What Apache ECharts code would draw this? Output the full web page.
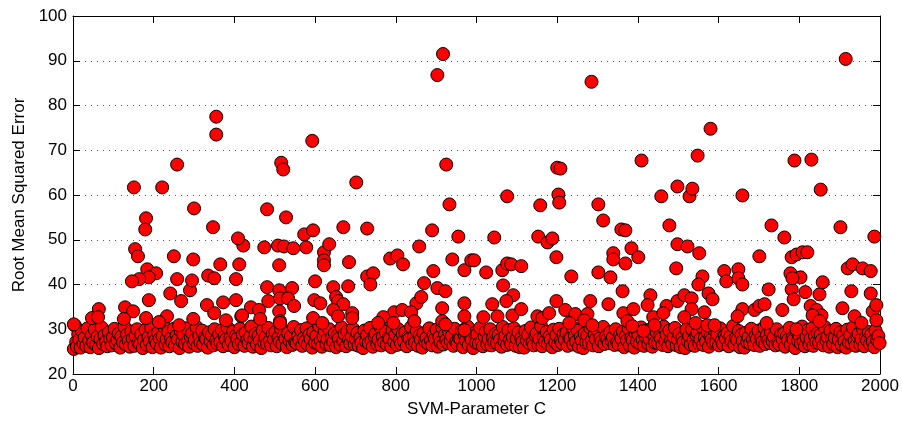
<!DOCTYPE html>
<html>
<head>
<meta charset="utf-8">
<script src="https://cdn.jsdelivr.net/npm/echarts@6/dist/echarts.min.js"></script>
<style>
html,body{margin:0;padding:0;background:#fff;}
#chart{width:902px;height:423px;}
</style>
</head>
<body>
<div id="chart"></div>
<script>
const xTicks = [0,200,400,600,800,1000,1200,1400,1600,1800,2000];
const yTicks = [20,30,40,50,60,70,80,90,100];
const xTitle = 'SVM-Parameter C';
const yTitle = 'Root Mean Squared Error';

// outliers above the dense band: [C, RMSE]
const highPoints = [
[151,61.7],[181,54.8],[179,52.3],[221,61.7],[258,66.8],[300,57.0],[347,52.8],[355,77.5],[355,73.5],
[481,56.8],[516,67.2],[521,65.7],[528,55.0],[593,72.1],[573,51.2],[595,52.1],[670,52.8],[702,62.8],
[729,52.5],[890,52.1],[903,86.8],[917,91.5],[925,66.8],[933,57.9],[409,50.3],[1044,50.5],[955,50.7],
[1076,59.7],[1153,50.7],[1176,49.4],[1188,50.3],[1158,57.7],[1200,66.1],[1208,65.9],[1203,60.1],
[1205,58.3],[1285,85.3],[1302,57.9],[1314,54.3],[1359,52.3],[1369,52.1],[1409,67.7],[1458,59.7],
[1478,53.2],[1498,61.9],[1528,59.7],[1535,61.4],[1548,68.8],[1580,74.8],[1659,59.9],[1731,53.2],
[1763,50.5],[1788,67.7],[1830,67.9],[1853,61.2],[1902,52.8],[1915,90.4],[1986,50.7]
];
const midPoints = [
[422,48.7],[154,47.9],[161,46.3],[250,46.3],[298,45.6],[474,48.3],[508,48.7],[523,48.5],[546,48.1],
[578,48.3],[622,47.2],[635,49.0],[622,45.4],[622,44.3],[684,45.0],[511,44.3],[365,44.5],[412,44.5],
[184,43.4],[206,42.5],[188,41.6],[164,41.2],[146,40.7],[258,41.2],[295,40.9],[335,42.0],[350,41.4],
[404,41.2],[600,40.7],[786,45.8],[804,46.5],[818,44.5],[858,48.5],[940,45.6],[970,43.2],[987,45.4],
[893,43.0],[729,41.8],[744,42.5],[737,40.0],[870,40.3],[994,45.4],[1024,42.7],[1064,43.2],[1076,44.7],
[1086,44.5],[1111,44.1],[1198,46.1],[1235,41.8],[1302,42.7],[1332,41.6],[1339,47.0],[1339,45.6],
[1369,44.7],[1384,48.1],[1401,46.1],[1498,49.0],[1495,43.6],[1523,48.5],[1552,47.0],[1701,46.3],
[1781,46.1],[1793,46.7],[1808,47.2],[1820,47.2],[1614,43.0],[1649,43.4],[1619,40.7],[1649,41.4],
[1659,40.0],[1560,41.8],[1550,40.0],[1778,42.5],[1803,41.6],[1783,41.4],[1858,40.5],[1920,43.6],
[1932,44.5],[1957,43.6],[1977,43.0],[1066,39.8]
];
const lowPoints = [
[481,39.4],[241,38.0],[290,38.7],[188,36.5],[268,36.3],[332,35.4],[350,33.6],[372,36.0],[404,36.5],
[129,34.9],[64,34.5],[149,34.0],[233,32.9],[441,34.9],[461,34.3],[417,32.9],[484,36.3],[419,33.1],
[511,38.7],[543,39.2],[645,39.4],[682,39.6],[903,39.2],[923,38.5],[513,36.9],[533,36.9],[548,35.2],
[598,36.5],[613,35.8],[652,37.2],[657,36.3],[670,35.6],[645,34.3],[657,32.9],[692,33.6],[692,32.5],
[511,34.0],[595,32.5],[851,35.8],[863,37.2],[796,33.8],[816,34.3],[838,33.8],[769,32.7],[846,31.8],
[915,34.7],[970,35.8],[970,32.9],[1091,37.6],[1074,36.3],[1039,35.6],[1017,32.7],[1052,32.9],[1089,33.1],
[1111,34.5],[1151,32.9],[1163,32.5],[1180,33.6],[1198,36.3],[1220,34.3],[1245,33.4],[1275,33.4],
[1282,36.3],[1327,35.6],[1362,38.5],[1364,33.6],[1389,34.5],[1431,37.6],[1424,35.4],[1438,32.7],
[1471,35.2],[1463,33.6],[1498,36.3],[1515,37.6],[1533,36.9],[1575,38.0],[1585,36.7],[1533,34.5],
[1565,33.8],[1515,32.7],[1659,34.5],[1647,32.9],[1689,34.3],[1701,35.2],[1714,35.6],[1758,34.3],
[1724,38.9],[1781,38.9],[1786,36.7],[1815,38.3],[1850,37.8],[1828,35.2],[1843,34.3],[1855,33.1],
[1833,33.1],[1929,38.5],[1977,38.0],[1907,34.7],[1937,32.9],[1982,34.0],[1991,35.4],[1991,32.0],
[2,31.1],[47,32.5],[62,32.7],[126,32.3],[181,32.5],[213,31.6],[263,30.9],[298,32.3],[379,32.0],
[464,32.3],[513,31.8],[513,31.4],[618,31.4],[756,31.4],[794,31.4],[915,31.8],[923,31.1],[970,29.8],
[1230,31.4],[1267,32.0],[1287,30.9],[1374,31.8],[1386,30.7],[1441,30.9],[1414,29.6],[1850,31.8],
[1954,31.4],[1543,31.4],[1572,30.9],[1590,30.9],[1719,31.4],[1793,30.0]
];
// dense band of near-minimal errors
const bandPoints = [
[2,25.6],[5,30.8],[8,27.2],[10,26.1],[13,28.9],[16,27.7],[19,25.9],[22,29.6],[26,26.8],[29,28.1],[33,26.3],[36,30.2],[40,27.5],[43,26.0],[47,28.7],[50,27.0],[54,29.9],[57,26.5],[61,28.3],[64,25.8],[68,27.9],[71,30.4],[75,26.7],[78,28.6],[82,27.3],[85,26.2],[89,29.3],[92,27.8],[96,26.4],[99,28.2],[103,30.1],[106,26.9],[110,27.6],[113,29.0],[117,25.9],[120,28.4],[124,27.1],[127,30.6],[131,26.6],[134,28.8],[138,27.4],[141,26.1],[145,29.5],[148,27.9],[152,26.3],[155,28.5],[159,30.0],[162,27.0],[166,26.7],[169,28.9],[173,25.8],[176,27.6],[180,29.8],[183,26.5],[187,28.2],[190,27.3],[194,30.3],[197,26.0],[201,28.7],[204,27.5],[208,26.8],[211,29.2],[215,27.9],[218,25.9],[222,28.4],[225,30.7],[229,26.6],[232,27.8],[236,29.4],[239,26.2],[243,28.0],[246,27.1],[250,30.1],[253,26.4],[257,28.6],[260,27.7],[264,25.8],[267,29.6],[271,27.2],[274,28.8],[278,26.7],[281,30.2],[285,27.4],[288,26.1],[292,28.3],[295,29.1],[299,26.9],[302,27.6],[306,30.5],[309,26.3],[313,28.5],[316,27.0],[320,29.7],[323,26.6],[327,28.1],[330,27.8],[334,25.9],[337,29.3],[341,27.3],[344,28.7],[348,26.4],[351,30.0],[355,27.5],[358,26.8],[362,28.9],[365,27.1],[369,29.8],[372,26.2],[376,28.4],[379,27.7],[383,30.4],[386,26.5],[390,28.0],[393,27.3],[397,29.5],[400,26.0],[404,28.6],[407,27.9],[411,26.7],[414,30.1],[418,27.2],[421,28.8],[425,26.3],[428,29.2],[432,27.6],[435,26.9],[439,28.3],[442,30.6],[446,26.1],[449,27.8],[453,29.0],[456,26.6],[460,28.5],[463,27.4],[467,25.8],[470,29.7],[474,27.0],[477,28.2],[481,26.8],[484,30.3],[488,27.5],[491,26.4],[495,28.9],[498,27.7],
[502,29.4],[505,26.2],[509,28.1],[512,27.2],[516,30.0],[519,26.7],[523,28.7],[526,27.9],[530,26.0],[533,29.1],[537,27.4],[540,28.4],[544,26.5],[547,30.5],[551,27.1],[554,26.9],[558,28.6],[561,27.6],[565,29.8],[568,26.3],[572,28.0],[575,27.3],[579,30.2],[582,26.6],[586,28.8],[589,27.8],[593,25.9],[596,29.3],[600,27.0],[603,28.5],[607,26.8],[610,30.7],[614,27.5],[617,26.1],[621,28.3],[624,29.6],[628,26.7],[631,27.7],[635,30.0],[638,26.4],[642,28.2],[645,27.2],[649,29.1],[652,26.0],[656,28.6],[659,27.9],[663,26.5],[666,30.4],[670,27.4],[673,28.9],[677,26.2],[680,29.5],[684,27.6],[687,26.8],[691,28.4],[694,30.1],[698,26.6],[701,27.8],[705,29.2],[708,26.3],[712,28.1],[715,27.0],[719,25.8],[722,29.7],[726,27.3],[729,28.7],[733,26.9],[736,30.3],[740,27.5],[743,26.1],[747,28.5],[750,29.0],[754,26.7],[757,27.7],[761,30.6],[764,26.4],[768,28.3],[771,27.1],[775,29.4],[778,26.6],[782,28.0],[785,27.8],[789,26.0],[792,29.8],[796,27.2],[799,28.8],[803,26.5],[806,30.0],[810,27.6],[813,26.8],[817,28.9],[820,27.4],[824,29.3],[827,26.2],[831,28.2],[834,27.9],[838,30.5],[841,26.7],[845,28.4],[848,27.0],[852,29.6],[855,26.3],[859,28.6],[862,27.7],[866,25.9],[869,29.1],[873,27.3],[876,28.1],[880,26.8],[883,30.2],[887,27.5],[890,26.4],[894,28.7],[897,27.8],[901,29.9],[904,26.1],[908,28.3],[911,27.1],[915,30.4],[918,26.6],[922,28.8],[925,27.6],[929,26.9],[932,29.4],[936,27.4],[939,28.5],[943,26.3],[946,30.1],[950,27.2],[953,26.7],[957,28.0],[960,27.9],[964,29.7],[967,26.0],[971,28.6],[974,27.5],[978,30.6],[981,26.5],[985,28.2],[988,27.7],[992,25.8],[995,29.2],[999,27.0],
[1002,28.9],[1006,26.8],[1009,30.3],[1013,27.3],[1016,26.2],[1020,28.4],[1023,29.5],[1027,26.6],[1030,27.8],[1034,30.0],[1037,26.4],[1041,28.1],[1044,27.1],[1048,29.0],[1051,26.9],[1055,28.7],[1058,27.6],[1062,26.1],[1065,30.5],[1069,27.4],[1072,28.5],[1076,26.5],[1079,29.8],[1083,27.7],[1086,26.7],[1090,28.3],[1093,30.2],[1097,26.3],[1100,27.9],[1104,29.3],[1107,26.0],[1111,28.0],[1114,27.2],[1118,25.9],[1121,29.6],[1125,27.5],[1128,28.8],[1132,26.8],[1135,30.4],[1139,27.0],[1142,26.4],[1146,28.6],[1149,29.1],[1153,26.6],[1156,27.8],[1160,30.7],[1163,26.2],[1167,28.2],[1170,27.3],[1174,29.4],[1177,26.7],[1181,28.4],[1184,27.6],[1188,26.0],[1191,29.9],[1195,27.1],[1198,28.7],[1202,26.5],[1205,30.1],[1209,27.4],[1212,26.9],[1216,28.9],[1219,27.7],[1223,29.2],[1226,26.3],[1230,28.1],[1233,27.9],[1237,30.6],[1240,26.6],[1244,28.5],[1247,27.2],[1251,29.7],[1254,26.1],[1258,28.3],[1261,27.5],[1265,25.8],[1268,29.0],[1272,27.0],[1275,28.6],[1279,26.8],[1282,30.3],[1286,27.6],[1289,26.4],[1293,28.8],[1296,27.8],[1300,29.8],[1303,26.2],[1307,28.0],[1310,27.3],[1314,30.5],[1317,26.7],[1321,28.4],[1324,27.7],[1328,26.9],[1331,29.3],[1335,27.4],[1338,28.2],[1342,26.5],[1345,30.0],[1349,27.1],[1352,26.6],[1356,28.7],[1359,27.9],[1363,29.5],[1366,26.0],[1370,28.5],[1373,27.5],[1377,30.2],[1380,26.4],[1384,28.1],[1387,27.6],[1391,25.9],[1394,29.1],[1398,27.2],[1401,28.9],[1405,26.8],[1408,30.4],[1412,27.7],[1415,26.3],[1419,28.3],[1422,29.6],[1426,26.7],[1429,27.8],[1433,30.1],[1436,26.1],[1440,28.6],[1443,27.0],[1447,29.2],[1450,26.9],[1454,28.4],[1457,27.9],[1461,26.5],[1464,30.6],[1468,27.3],[1471,28.8],[1475,26.2],[1478,29.7],[1482,27.5],[1485,26.7],[1489,28.2],[1492,30.3],[1496,26.4],[1499,27.7],
[1503,29.0],[1506,26.0],[1510,28.0],[1513,27.1],[1517,25.8],[1520,29.9],[1524,27.4],[1527,28.5],[1531,26.6],[1534,30.0],[1538,27.6],[1541,26.3],[1545,28.7],[1548,29.3],[1552,26.8],[1555,27.8],[1559,30.5],[1562,26.5],[1566,28.1],[1569,27.2],[1573,29.4],[1576,26.1],[1580,28.3],[1583,27.7],[1587,26.9],[1590,29.8],[1594,27.0],[1597,28.9],[1601,26.4],[1604,30.2],[1608,27.5],[1611,26.7],[1615,28.6],[1618,27.9],[1622,29.1],[1625,26.2],[1629,28.4],[1632,27.3],[1636,30.7],[1639,26.6],[1643,28.0],[1646,27.6],[1650,29.6],[1653,26.0],[1657,28.8],[1660,27.4],[1664,25.9],[1667,29.2],[1671,27.1],[1674,28.2],[1678,26.8],[1681,30.1],[1685,27.7],[1688,26.5],[1692,28.5],[1695,27.8],[1699,29.7],[1702,26.3],[1706,28.1],[1709,27.2],[1713,30.4],[1716,26.7],[1720,28.7],[1723,27.5],[1727,26.9],[1730,29.4],[1734,27.3],[1737,28.3],[1741,26.4],[1744,30.0],[1748,27.0],[1751,26.6],[1755,28.9],[1758,27.9],[1762,29.0],[1765,26.1],[1769,28.4],[1772,27.6],[1776,30.3],[1779,26.5],[1783,28.0],[1786,27.7],[1790,25.8],[1793,29.5],[1797,27.4],[1800,28.6],[1804,26.8],[1807,30.6],[1811,27.2],[1814,26.2],[1818,28.2],[1821,29.8],[1825,26.6],[1828,27.8],[1832,30.2],[1835,26.3],[1839,28.5],[1842,27.1],[1846,29.1],[1849,26.9],[1853,28.8],[1856,27.6],[1860,26.4],[1863,30.5],[1867,27.5],[1870,28.3],[1874,26.1],[1877,29.6],[1881,27.9],[1884,26.7],[1888,28.1],[1891,30.1],[1895,26.0],[1898,27.7],[1902,29.3],[1905,26.5],[1909,28.6],[1912,27.3],[1916,25.9],[1919,29.9],[1923,27.0],[1926,28.7],[1930,26.8],[1933,30.4],[1937,27.4],[1940,26.3],[1944,28.4],[1947,29.0],[1951,26.6],[1954,27.8],[1958,30.0],[1961,26.2],[1965,28.2],[1968,27.5],[1972,29.4],[1975,26.7],[1979,28.9],[1982,27.2],[1986,26.0],[1989,29.7],[1993,27.6],[1996,28.5],[1999,26.9]
];

const FONT = 'Liberation Sans, Arial, Helvetica, sans-serif';
const allPoints = bandPoints.concat(lowPoints, midPoints, highPoints);

const chart = echarts.init(document.getElementById('chart'), null, {renderer: 'canvas'});
const xMin = xTicks[0], xMax = xTicks[xTicks.length-1], xInt = xTicks[1]-xTicks[0];
const yMin = yTicks[0], yMax = yTicks[yTicks.length-1], yInt = yTicks[1]-yTicks[0];

const axisCommon = {
  axisLine: {show: true, onZero: false, lineStyle: {color: '#000', width: 1}},
  axisTick: {show: true, inside: true, length: 7, lineStyle: {color: '#000', width: 1}},
  minorTick: {show: false},
};
const plain = v => String(v);

chart.setOption({
  animation: false,
  backgroundColor: '#fff',
  grid: {left: 73, right: 22, top: 16, bottom: 48, containLabel: false},
  xAxis: [
    Object.assign({}, axisCommon, {
      type: 'value', min: xMin, max: xMax, interval: xInt, position: 'bottom',
      name: xTitle, nameLocation: 'middle', nameGap: 27,
      nameTextStyle: {fontFamily: FONT, fontSize: 17, color: '#000'},
      axisLabel: {fontFamily: FONT, fontSize: 17, color: '#000', margin: 4, formatter: plain},
      splitLine: {show: false}
    }),
    Object.assign({}, axisCommon, {
      type: 'value', min: xMin, max: xMax, interval: xInt, position: 'top',
      axisLabel: {show: false}, splitLine: {show: false}
    })
  ],
  yAxis: [
    Object.assign({}, axisCommon, {
      type: 'value', min: yMin, max: yMax, interval: yInt, position: 'left',
      name: yTitle, nameLocation: 'middle', nameGap: 45, nameRotate: 90,
      nameTextStyle: {fontFamily: FONT, fontSize: 17, color: '#000'},
      axisLabel: {fontFamily: FONT, fontSize: 17, color: '#000', margin: 6, formatter: plain},
      splitLine: {show: true, lineStyle: {color: '#555', width: 1, type: [1, 5]}}
    }),
    Object.assign({}, axisCommon, {
      type: 'value', min: yMin, max: yMax, interval: yInt, position: 'right',
      axisLabel: {show: false}, splitLine: {show: false}
    })
  ],
  series: [{
    type: 'scatter',
    xAxisIndex: 0, yAxisIndex: 0,
    data: allPoints,
    symbol: 'circle',
    symbolSize: 13,
    itemStyle: {color: '#ff0000', borderColor: '#000', borderWidth: 1, opacity: 1},
    emphasis: {disabled: true},
    silent: true
  }]
});
</script>
</body>
</html>
